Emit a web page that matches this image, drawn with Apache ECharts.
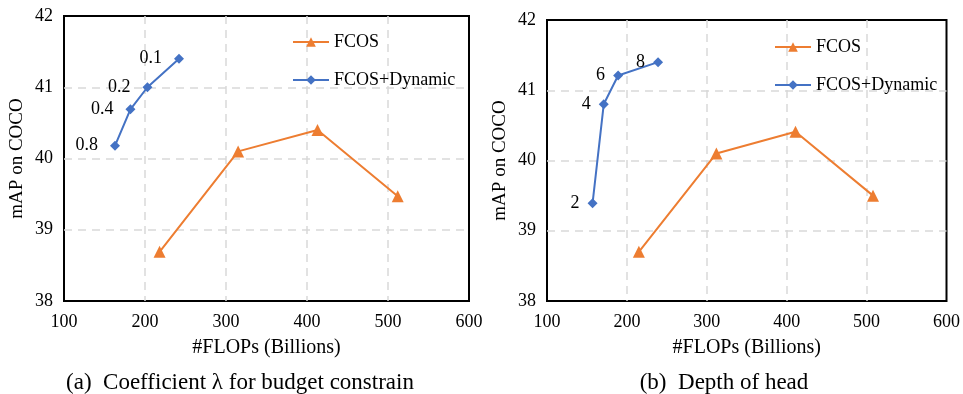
<!DOCTYPE html>
<html>
<head>
<meta charset="utf-8">
<script src="https://cdn.jsdelivr.net/npm/echarts@6/dist/echarts.min.js"></script>
<style>
  html, body { margin: 0; padding: 0; background: #fff; }
  #chart { width: 963px; height: 394px; }
</style>
</head>
<body>
<div id="chart"></div>
<script>
// (a) coefficient lambda
var fcosFlopsA = [218, 315, 413, 512];
var fcosMapA = [38.69, 40.1, 40.4, 39.47];
var dynFlopsA = [163, 182, 203, 242];
var dynMapA = [40.18, 40.69, 41.0, 41.4];
var lambdaLabels = ['0.8', '0.4', '0.2', '0.1'];
// (b) depth of head
var fcosFlopsB = [215, 312, 411, 508];
var fcosMapB = [38.7, 40.1, 40.41, 39.5];
var dynFlopsB = [157, 171, 189, 239];
var dynMapB = [39.39, 40.8, 41.21, 41.4];
var depthLabels = ['2', '4', '6', '8'];

var captions = ['(a)  Coefficient \u03bb for budget constrain', '(b)  Depth of head'];
var orange = '#ED7D31';
var blue = '#4472C4';
var font = 'Liberation Serif';

function pairs(xs, ys) {
	var out = [];
	for (var i = 0; i < xs.length; i++) {
		out.push([xs[i], ys[i]]);
	}
	return out;
}

var dashed = { color: '#d9d9d9', width: 1.5, type: [8, 6] };

function xAxisOf(idx) {
	return {
		gridIndex: idx, type: 'value', min: 100, max: 600, interval: 100,
		name: '#FLOPs (Billions)', nameLocation: 'middle', nameGap: 37,
		nameTextStyle: { fontFamily: font, fontSize: 20, color: '#000' },
		axisLine: { show: false }, axisTick: { show: false },
		axisLabel: { fontFamily: font, fontSize: 18, color: '#000', margin: 12 },
		splitLine: { show: true, showMinLine: false, showMaxLine: false, lineStyle: dashed }
	};
}

function yAxisOf(idx) {
	return {
		gridIndex: idx, type: 'value', min: 38, max: 42, interval: 1,
		name: 'mAP on COCO', nameLocation: 'middle', nameGap: 37,
		nameTextStyle: { fontFamily: font, fontSize: 19, color: '#000' },
		axisLine: { show: false }, axisTick: { show: false },
		axisLabel: { fontFamily: font, fontSize: 18, color: '#000', margin: 11 },
		splitLine: { show: true, showMinLine: false, showMaxLine: false, lineStyle: dashed }
	};
}

function fcosSeries(idx, xs, ys) {
	return {
		name: 'FCOS', type: 'line', xAxisIndex: idx, yAxisIndex: idx,
		data: pairs(xs, ys),
		symbol: 'triangle', symbolSize: 12,
		lineStyle: { color: orange, width: 2 },
		itemStyle: { color: orange }
	};
}

function dynSeries(idx, xs, ys, names, dist) {
	return {
		name: 'FCOS+Dynamic', type: 'line', xAxisIndex: idx, yAxisIndex: idx,
		data: pairs(xs, ys),
		symbol: 'diamond', symbolSize: 10,
		lineStyle: { color: blue, width: 2 },
		itemStyle: { color: blue },
		label: {
			show: true, position: 'left', distance: dist,
			fontFamily: font, fontSize: 18, color: '#000',
			formatter: function (p) { return names[p.dataIndex]; }
		}
	};
}

var legendBase = {
	orient: 'vertical', itemWidth: 36, itemHeight: 12, itemGap: 20,
	data: ['FCOS', 'FCOS+Dynamic'],
	textStyle: { fontFamily: font, fontSize: 18, color: '#000' }
};

var charts = echarts.init(document.getElementById('chart'));
var option = {
	animation: false,
	title: [
		{ text: captions[0], left: 235, top: 366, textAlign: 'center',
		  textStyle: { fontFamily: font, fontSize: 23, fontWeight: 'normal', color: '#000' } },
		{ text: captions[1], left: 719, top: 366, textAlign: 'center',
		  textStyle: { fontFamily: font, fontSize: 23, fontWeight: 'normal', color: '#000' } }
	],
	legend: [
		Object.assign({ left: 287, top: 28 }, legendBase),
		Object.assign({ left: 769, top: 33 }, legendBase)
	],
	grid: [
		{ left: 64, right: 494, top: 16, bottom: 93, show: true, borderColor: '#000', borderWidth: 2, borderType: 'solid' },
		{ left: 547, right: 12, top: 20, bottom: 93, show: true, borderColor: '#000', borderWidth: 2, borderType: 'solid' }
	],
	xAxis: [xAxisOf(0), xAxisOf(1)],
	yAxis: [yAxisOf(0), yAxisOf(1)],
	series: [
		fcosSeries(0, fcosFlopsA, fcosMapA),
		dynSeries(0, dynFlopsA, dynMapA, lambdaLabels, 12),
		fcosSeries(1, fcosFlopsB, fcosMapB),
		dynSeries(1, dynFlopsB, dynMapB, depthLabels, 8)
	]
};
charts.setOption(option);
</script>
</body>
</html>
